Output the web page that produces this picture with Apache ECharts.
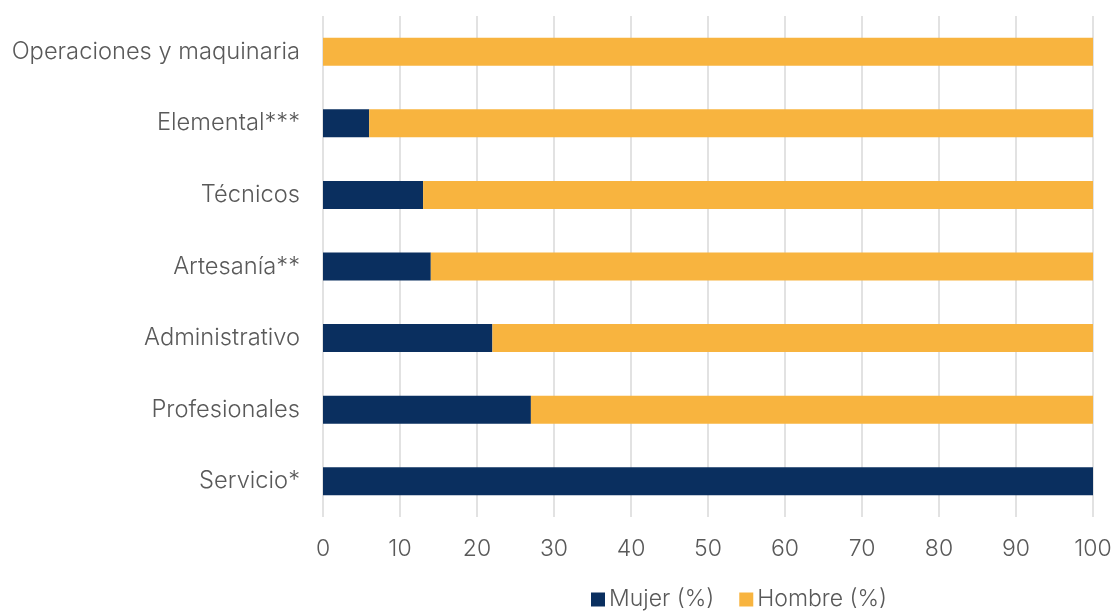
<!DOCTYPE html>
<html>
<head>
<meta charset="utf-8">
<script src="https://cdn.jsdelivr.net/npm/echarts@6/dist/echarts.min.js"></script>
<style>html,body{margin:0;padding:0;background:#fff}#c{width:1115px;height:613px}</style>
</head>
<body>
<div id="c"></div>
<script>
const categories = ["Servicio*", "Profesionales", "Administrativo", "Artesanía**", "Técnicos", "Elemental***", "Operaciones y maquinaria"];
const mujer = [100, 27, 22, 14, 13, 6, 0];
const hombre = [0, 73, 78, 86, 87, 94, 100];
const seriesNames = ["Mujer (%)", "Hombre (%)"];

const font = "Inter";
const weight = 300;
const chart = echarts.init(document.getElementById('c'));
chart.setOption({
  animation: false,
  textStyle: { fontFamily: font, fontWeight: weight },
  grid: { left: 323, right: 22, top: 16, bottom: 96 },
  legend: {
    left: 591, top: 588, padding: 0,
    itemWidth: 14, itemHeight: 14, itemGap: 25,
    icon: 'rect',
    textStyle: { fontFamily: font, fontWeight: weight, fontSize: 23, color: '#595959', padding: [0, 0, 0, -1] },
    data: seriesNames
  },
  xAxis: {
    type: 'value', min: 0, max: 100, interval: 10,
    axisLine: { show: false }, axisTick: { show: false },
    splitLine: { lineStyle: { color: '#d9d9d9', width: 1.5 } },
    axisLabel: { fontFamily: font, fontWeight: weight, fontSize: 23, color: '#595959', margin: 21 }
  },
  yAxis: {
    type: 'category', data: categories,
    axisLine: { show: false }, axisTick: { show: false },
    axisLabel: { fontFamily: font, fontWeight: weight, fontSize: 23.7, color: '#595959', margin: 23 }
  },
  series: [
    { name: seriesNames[0], type: 'bar', stack: 'a', data: mujer, barWidth: 28,
      itemStyle: { color: '#0a2f5f' } },
    { name: seriesNames[1], type: 'bar', stack: 'a', data: hombre, barWidth: 28,
      itemStyle: { color: '#f8b43f' } }
  ]
});
</script>
</body>
</html>
